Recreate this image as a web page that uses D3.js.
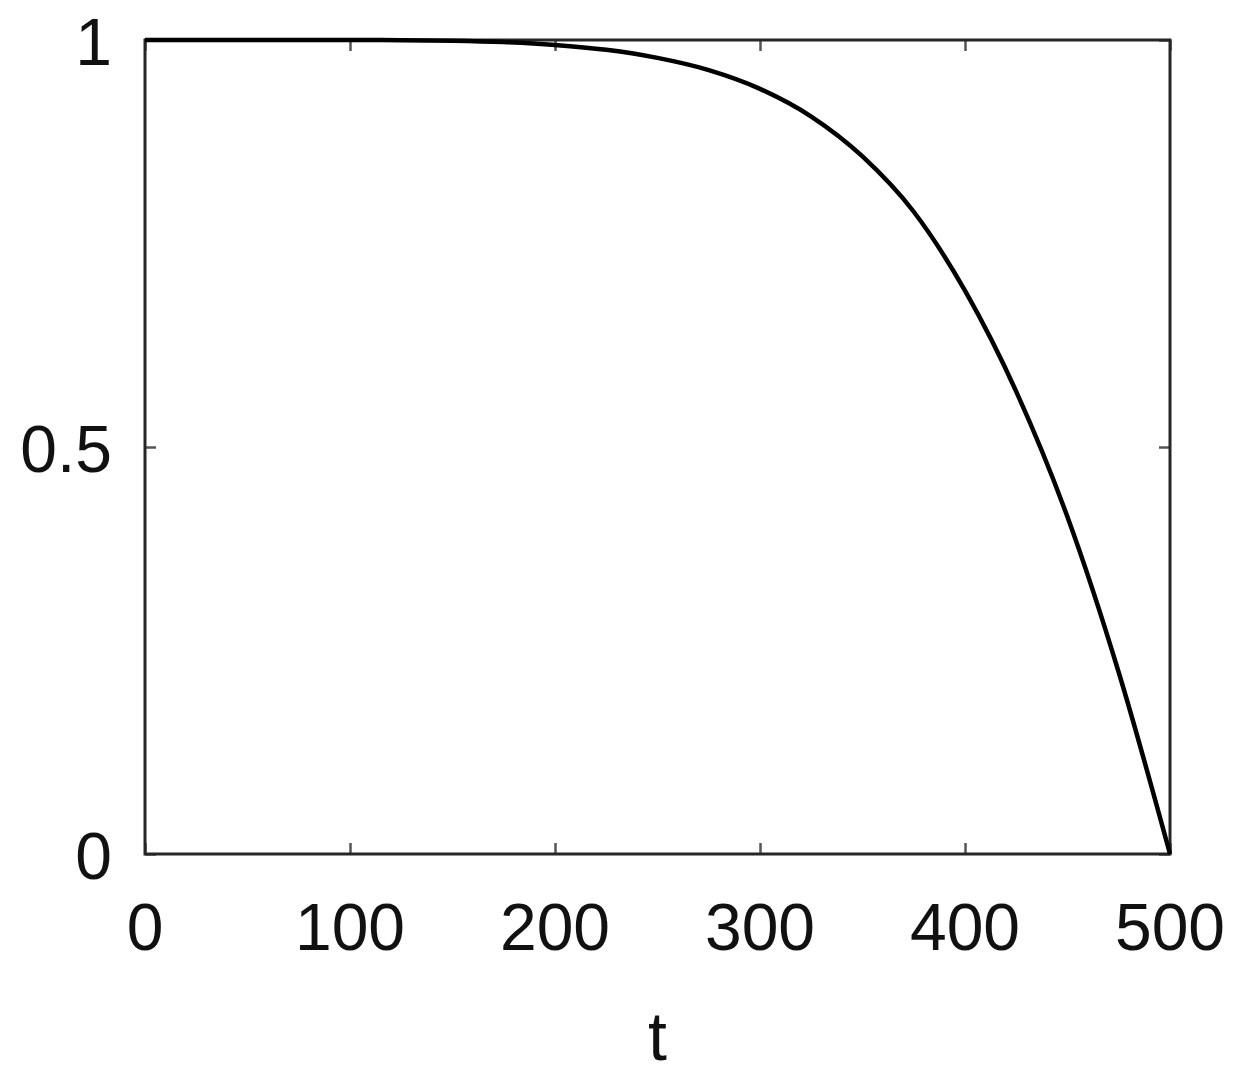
<!DOCTYPE html>
<html>
<head>
<meta charset="utf-8">
<script src="https://cdn.jsdelivr.net/npm/d3@7"></script>
<style>
  html, body { margin: 0; padding: 0; background: #fff; }
  svg { display: block; }
</style>
</head>
<body>
<svg id="chart" width="1240" height="1088"></svg>
<script>
// Data
const tValues = [0, 25, 50, 75, 100, 125, 150, 175, 200, 225, 250, 275, 300, 325, 350, 375, 400, 425, 450, 475, 500];
const yValues = [1, 1, 1, 1, 1, 0.9998, 0.9992, 0.9975, 0.994, 0.988, 0.978, 0.963, 0.940, 0.906, 0.857, 0.789, 0.692, 0.568, 0.414, 0.223, 0];
const xTicks = [0, 100, 200, 300, 400, 500];
const yTicks = [0, 0.5, 1];
const yTickLabels = ["0", "0.5", "1"];
const xLabel = "t";

const svg = d3.select("#chart");
const margin = { left: 145, right: 70, top: 40, bottom: 234 };
const W = 1240, H = 1088;
const x = d3.scaleLinear().domain([0, 500]).range([margin.left, W - margin.right]);
const y = d3.scaleLinear().domain([0, 1]).range([H - margin.bottom, margin.top]);

const font = "'Liberation Sans', Arial, sans-serif";
const tickLen = 11;

// ticks (inward, on all four sides)
const tickStyle = g => g.selectAll("line").attr("stroke", "#555").attr("stroke-width", 2.5);

svg.append("g")
  .attr("transform", `translate(0,${y(0)})`)
  .call(d3.axisBottom(x).tickValues(xTicks).tickSize(-tickLen).tickFormat(""))
  .call(g => g.select(".domain").remove())
  .call(tickStyle);
svg.append("g")
  .attr("transform", `translate(0,${y(1)})`)
  .call(d3.axisTop(x).tickValues(xTicks).tickSize(-tickLen).tickFormat(""))
  .call(g => g.select(".domain").remove())
  .call(tickStyle);
svg.append("g")
  .attr("transform", `translate(${x(0)},0)`)
  .call(d3.axisLeft(y).tickValues(yTicks).tickSize(-tickLen).tickFormat(""))
  .call(g => g.select(".domain").remove())
  .call(tickStyle);
svg.append("g")
  .attr("transform", `translate(${x(500)},0)`)
  .call(d3.axisRight(y).tickValues(yTicks).tickSize(-tickLen).tickFormat(""))
  .call(g => g.select(".domain").remove())
  .call(tickStyle);

// frame
svg.append("rect")
  .attr("x", x(0)).attr("y", y(1))
  .attr("width", x(500) - x(0)).attr("height", y(0) - y(1))
  .attr("fill", "none").attr("stroke", "#262626").attr("stroke-width", 3);

// curve
const data = tValues.map((t, i) => ({ t, v: yValues[i] }));
svg.append("path")
  .datum(data)
  .attr("fill", "none")
  .attr("stroke", "#000")
  .attr("stroke-width", 4.5)
  .attr("stroke-linejoin", "round")
  .attr("d", d3.line().x(d => x(d.t)).y(d => y(d.v)).curve(d3.curveMonotoneX));

// tick labels
svg.append("g").selectAll("text").data(xTicks).join("text")
  .attr("x", d => x(d)).attr("y", 950)
  .attr("text-anchor", "middle")
  .attr("font-family", font).attr("font-size", 66).attr("fill", "#111")
  .text(d => d);

svg.append("g").selectAll("text").data(yTicks).join("text")
  .attr("x", 112).attr("y", d => y(d) + 25)
  .attr("text-anchor", "end")
  .attr("font-family", font).attr("font-size", 66).attr("fill", "#111")
  .text((d, i) => yTickLabels[i]);

// axis label
svg.append("text")
  .attr("x", (x(0) + x(500)) / 2).attr("y", 1060)
  .attr("text-anchor", "middle")
  .attr("font-family", font).attr("font-size", 68).attr("fill", "#111")
  .text(xLabel);
</script>
</body>
</html>
